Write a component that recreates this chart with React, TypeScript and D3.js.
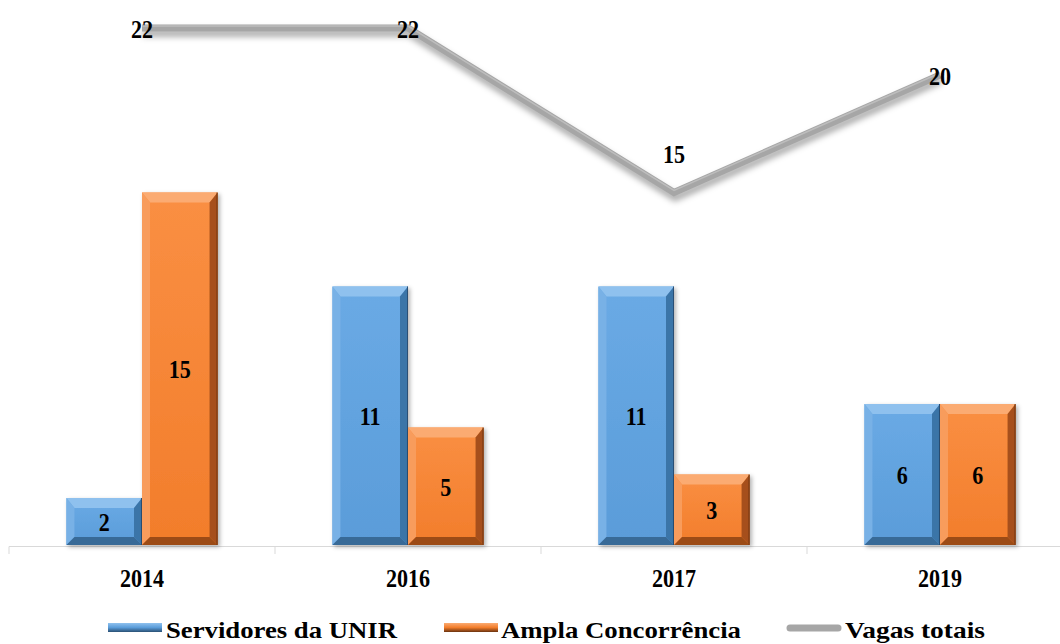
import React from "react";
import * as d3 from "d3";

const years = ["2014", "2016", "2017", "2019"];
const servidores = [2, 11, 11, 6];
const ampla = [15, 5, 3, 6];
const vagas = [22, 22, 15, 20];
const seriesNames = ["Servidores da UNIR", "Ampla Concorrência", "Vagas totais"];

const W = 1060;
const H = 644;
const FONT = "Liberation Serif, Tinos, Times New Roman, Times, DejaVu Serif, serif";

type Pal = { top: string; left: string; faceA: string; faceB: string; right: string; bottom: string; edge: string };
const bluePal: Pal = { top: "#8fc1ee", left: "#78b1e6", faceA: "#6aaae5", faceB: "#5a9cd9", right: "#3b74a8", bottom: "#386a97", edge: "#2a5074" };
const orangePal: Pal = { top: "#fbab72", left: "#f89c5c", faceA: "#fa8f43", faceB: "#f27d2b", right: "#a6501a", bottom: "#9c4b17", edge: "#6a330f" };

function BevelBar({ x, y, w, h, pal, id }: { x: number; y: number; w: number; h: number; pal: Pal; id: string }) {
  const bt = Math.min(10, h / 3);
  const bs = Math.min(8, w / 4);
  const bb = Math.min(8, h / 3);
  const pts = (a: number[][]) => a.map((p) => p.join(",")).join(" ");
  return (
    <g filter="url(#barShadow)">
      <defs>
        <linearGradient id={`face-${id}`} x1="0" y1="0" x2="0" y2="1">
          <stop offset="0" stopColor={pal.faceA} />
          <stop offset="1" stopColor={pal.faceB} />
        </linearGradient>
      </defs>
      <rect x={x} y={y} width={w} height={h} fill={`url(#face-${id})`} />
      <polygon points={pts([[x, y], [x + w, y], [x + w - bs, y + bt], [x + bs, y + bt]])} fill={pal.top} />
      <polygon points={pts([[x, y], [x + bs, y + bt], [x + bs, y + h - bb], [x, y + h]])} fill={pal.left} />
      <polygon points={pts([[x + w, y], [x + w - bs, y + bt], [x + w - bs, y + h - bb], [x + w, y + h]])} fill={pal.right} />
      <polygon points={pts([[x, y + h], [x + bs, y + h - bb], [x + w - bs, y + h - bb], [x + w, y + h]])} fill={pal.bottom} />
      <line x1={x + w - 0.5} y1={y} x2={x + w - 0.5} y2={y + h} stroke={pal.edge} strokeWidth={1} />
    </g>
  );
}

function CondText({ x, y, text, size = 26, sx = 0.85, anchor = "middle" }: { x: number; y: number; text: string; size?: number; sx?: number; anchor?: string }) {
  return (
    <text
      transform={`translate(${x},${y}) scale(${sx},1)`}
      textAnchor={anchor as any}
      style={{ fontFamily: FONT, fontWeight: 700, fontSize: size }}
      fill="#000"
    >
      {text}
    </text>
  );
}

export default function App() {
  const baseY = 545;
  const x0 = d3.scaleBand<string>().domain(years).range([9, 1073]).paddingInner(0).paddingOuter(0);
  const x1 = d3.scaleBand<string>().domain(["s", "a"]).range([0, x0.bandwidth()]).paddingInner(0).paddingOuter(0.76);
  const y = d3.scaleLinear().domain([0, 22]).range([baseY, 28]);

  const linePts: [number, number][] = years.map((yr, i) => [x0(yr)! + x0.bandwidth() / 2, y(vagas[i])]);
  const lineGen = d3.line();
  const linePath = lineGen(linePts) || "";

  const ticks = [...years.map((yr) => x0(yr)!), x0(years[years.length - 1])! + x0.bandwidth()];
  const legStyle = { fontFamily: FONT, fontWeight: 700, fontSize: 24 } as React.CSSProperties;

  return (
    <svg width={W} height={H} style={{ position: "absolute", left: 0, top: 0, display: "block", background: "#fff" }}>
      <defs>
        <filter id="barShadow" x="-20%" y="-10%" width="150%" height="130%">
          <feDropShadow dx="2" dy="2" stdDeviation="2" floodColor="#000" floodOpacity="0.3" />
        </filter>
        <filter id="lineShadow" x="-10%" y="-30%" width="120%" height="160%">
          <feGaussianBlur stdDeviation="3" />
        </filter>
        <linearGradient id="legBlue" x1="0" y1="0" x2="0" y2="1">
          <stop offset="0" stopColor="#8fc1ee" />
          <stop offset="0.5" stopColor="#5a9cd9" />
          <stop offset="1" stopColor="#2a5074" />
        </linearGradient>
        <linearGradient id="legOrange" x1="0" y1="0" x2="0" y2="1">
          <stop offset="0" stopColor="#fbab72" />
          <stop offset="0.5" stopColor="#f27d2b" />
          <stop offset="1" stopColor="#6a330f" />
        </linearGradient>
      </defs>

      {/* axis */}
      <line x1={ticks[0]} x2={W} y1={baseY + 1.5} y2={baseY + 1.5} stroke="#d9d9d9" strokeWidth={1} />
      {ticks.map((t, i) => (
        <line key={i} x1={t} x2={t} y1={baseY + 1.5} y2={baseY + 9} stroke="#d9d9d9" strokeWidth={1} />
      ))}

      {/* bars */}
      {years.map((yr, i) => {
        const gx = x0(yr)!;
        const bw = x1.bandwidth();
        const sx = gx + x1("s")!;
        const ax = gx + x1("a")!;
        const sy = y(servidores[i]);
        const ay = y(ampla[i]);
        return (
          <g key={yr}>
            <BevelBar x={sx} y={sy} w={bw} h={baseY - sy} pal={bluePal} id={`s${i}`} />
            <BevelBar x={ax} y={ay} w={bw} h={baseY - ay} pal={orangePal} id={`a${i}`} />
            <CondText x={sx + bw / 2} y={(sy + baseY) / 2 + 9.5} text={String(servidores[i])} />
            <CondText x={ax + bw / 2} y={(ay + baseY) / 2 + 9.5} text={String(ampla[i])} />
          </g>
        );
      })}

      {/* line */}
      <path d={linePath} transform="translate(1,5)" fill="none" stroke="#000" strokeOpacity={0.35} strokeWidth={7} filter="url(#lineShadow)" />
      <path d={linePath} fill="none" stroke="#a6a6a6" strokeWidth={7} strokeLinejoin="miter" />
      <path d={linePath} transform="translate(0,-2)" fill="none" stroke="#bdbdbd" strokeWidth={1.5} />
      {linePts.map((p, i) => {
        const prev = i > 0 ? vagas[i - 1] : Infinity;
        const next = i < vagas.length - 1 ? vagas[i + 1] : Infinity;
        const isMin = vagas[i] < prev && vagas[i] < next;
        const ly = isMin ? p[1] - 30 : p[1] + 9.5;
        return <CondText key={i} x={p[0]} y={ly} text={String(vagas[i])} />;
      })}

      {/* x labels */}
      {years.map((yr) => (
        <CondText key={yr} x={x0(yr)! + x0.bandwidth() / 2} y={587} text={yr} />
      ))}

      {/* legend */}
      <g>
        <rect x={108} y={623} width={54} height={9} fill="url(#legBlue)" />
        <text x={166} y={638} style={legStyle} textLength={231} lengthAdjust="spacingAndGlyphs">{seriesNames[0]}</text>
        <rect x={444} y={623} width={54} height={9} fill="url(#legOrange)" />
        <text x={501} y={638} style={legStyle} textLength={240} lengthAdjust="spacingAndGlyphs">{seriesNames[1]}</text>
        <line x1={790} x2={838} y1={628} y2={628} stroke="#a6a6a6" strokeWidth={7} strokeLinecap="round" />
        <text x={845} y={638} style={legStyle} textLength={140} lengthAdjust="spacingAndGlyphs">{seriesNames[2]}</text>
      </g>
    </svg>
  );
}
